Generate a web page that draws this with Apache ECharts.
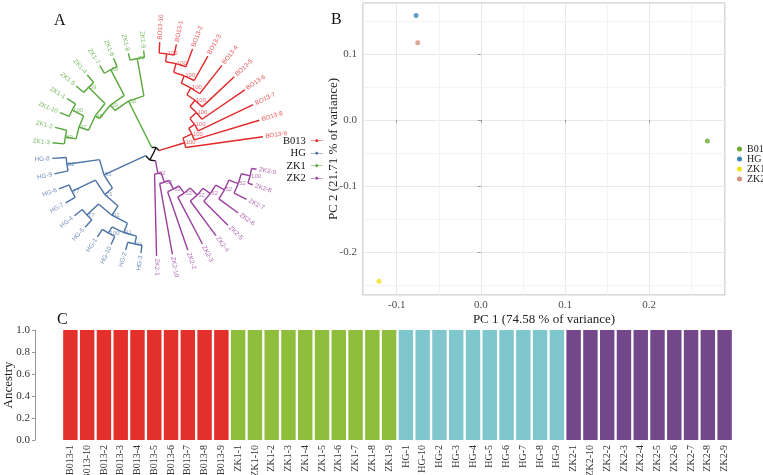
<!DOCTYPE html>
<html>
<head>
<meta charset="utf-8">
<script src="https://cdn.jsdelivr.net/npm/echarts@6/dist/echarts.min.js"></script>
<style>
  html, body { margin: 0; padding: 0; background: #fff; }
  #chart { width: 763px; height: 475px; }
</style>
</head>
<body>
<div id="chart"></div>
<script>
// ---- A: circular tree ----
const treeColors = { B013: '#e2282a', HG: '#4a72a6', ZK1: '#56a83a', ZK2: '#9a3f9c' };
const leafSlots = 41;   // 40 tips + one empty slot beside the legend
const leafStart = 8;    // degrees, counter-clockwise from east

// B013 and ZK2 are ladders: every node splits one tip off
const b013Tips = ['BO13-9', 'BO13-8', 'BO13-7', 'BO13-6', 'BO13-5', 'BO13-4', 'BO13-3', 'BO13-2', 'BO13-1', 'BO13-10'];
const b013NodeR = [32, 42, 49, 58, 66, 74, 82, 91, 99];
const b013Support = [100, 100, 100, 100, 100, 100, 100, 100, 100];
const b013TipR = 110;

const zk2Tips = ['ZK2-1', 'ZK2-10', 'ZK2-2', 'ZK2-3', 'ZK2-4', 'ZK2-5', 'ZK2-6', 'ZK2-7', 'ZK2-8', 'ZK2-9'];
const zk2NodeR = [22, 32, 42, 51, 61, 70, 80, 90, 99];
const zk2Support = [52, 52, 52, 52, 52, 52, 52, 52, 100];
const zk2TipR = 104;

// ZK1 and HG are ladders of tip pairs
const zk1Pairs = [['ZK1-9', 'ZK1-8'], ['ZK1-6', 'ZK1-7'], ['ZK1-4', 'ZK1-5'], ['ZK1-1', 'ZK1-10'], ['ZK1-2', 'ZK1-3']];
const zk1PairR = [95, 93, 92, 92, 90];
const zk1PairSupport = [77, 69, 59, 100, 59];
const zk1SpineR = [57, 64, 69, 79];
const zk1SpineSupport = [58, 59, 48, 47];
const zk1TipR = 102;

const hgPairs = [['HG-8', 'HG-9'], ['HG-6', 'HG-7'], ['HG-4', 'HG-5'], ['HG-1', 'HG-10'], ['HG-2', 'HG-3']];
const hgPairR = [88, 91, 92, 93, 94];
const hgPairSupport = [52, 77, 77, 100, 41];
const hgSpineR = [55, 65, 76, 86];
const hgSpineSupport = [91, 71, 91, 41];
const hgTipR = 102;

const rootR = [5, 9]; // the two black basal nodes

// ---- B: PCA ----
const pcaGroups = ['B013', 'HG', 'ZK1', 'ZK2'];
const pc1 = [0.269, -0.077, -0.121, -0.075];
const pc2 = [-0.032, 0.158, -0.244, 0.117];
const pcaColors = ['#6cad2f', '#3a86b0', '#f2e21c', '#d3917a'];
const minorX = [-0.05, 0.05, 0.15, 0.25];
const minorY = [-0.25, -0.15, -0.05, 0.05, 0.15];

// ---- C: ancestry ----
const samples = ['B013-1', 'B013-10', 'B013-2', 'B013-3', 'B013-4', 'B013-5', 'B013-6', 'B013-7', 'B013-8', 'B013-9',
  'ZK1-1', 'ZK1-10', 'ZK1-2', 'ZK1-3', 'ZK1-4', 'ZK1-5', 'ZK1-6', 'ZK1-7', 'ZK1-8', 'ZK1-9',
  'HG-1', 'HG-10', 'HG-2', 'HG-3', 'HG-4', 'HG-5', 'HG-6', 'HG-7', 'HG-8', 'HG-9',
  'ZK2-1', 'ZK2-10', 'ZK2-2', 'ZK2-3', 'ZK2-4', 'ZK2-5', 'ZK2-6', 'ZK2-7', 'ZK2-8', 'ZK2-9'];
const ancestryK1 = [1, 1, 1, 1, 1, 1, 1, 1, 1, 1, 0, 0, 0, 0, 0, 0, 0, 0, 0, 0, 0, 0, 0, 0, 0, 0, 0, 0, 0, 0, 0, 0, 0, 0, 0, 0, 0, 0, 0, 0];
const ancestryK2 = [0, 0, 0, 0, 0, 0, 0, 0, 0, 0, 1, 1, 1, 1, 1, 1, 1, 1, 1, 1, 0, 0, 0, 0, 0, 0, 0, 0, 0, 0, 0, 0, 0, 0, 0, 0, 0, 0, 0, 0];
const ancestryK3 = [0, 0, 0, 0, 0, 0, 0, 0, 0, 0, 0, 0, 0, 0, 0, 0, 0, 0, 0, 0, 1, 1, 1, 1, 1, 1, 1, 1, 1, 1, 0, 0, 0, 0, 0, 0, 0, 0, 0, 0];
const ancestryK4 = [0, 0, 0, 0, 0, 0, 0, 0, 0, 0, 0, 0, 0, 0, 0, 0, 0, 0, 0, 0, 0, 0, 0, 0, 0, 0, 0, 0, 0, 0, 1, 1, 1, 1, 1, 1, 1, 1, 1, 1];
const barColors = ['#e3302b', '#8fbd3c', '#80c6cd', '#734789'];

const serif = 'Liberation Serif';

// build the tree
function ladder(tips, nodeR, support, tipR, clade) {
  const n = nodeR.length;
  let node = { r: nodeR[n - 1], s: support[n - 1], clade,
    children: [{ name: tips[n - 1], r: tipR, clade }, { name: tips[n], r: tipR, clade }] };
  for (let i = n - 2; i >= 0; i--) {
    node = { r: nodeR[i], s: support[i], clade, children: [{ name: tips[i], r: tipR, clade }, node] };
  }
  return node;
}
function pairLadder(pairs, pairR, pairSupport, spineR, spineSupport, tipR, clade) {
  const pn = pairs.map((p, i) => ({ r: pairR[i], s: pairSupport[i], clade,
    children: p.map(name => ({ name, r: tipR, clade })) }));
  const k = spineR.length;
  let node = { r: spineR[k - 1], s: spineSupport[k - 1], clade, children: [pn[k - 1], pn[k]] };
  for (let i = k - 2; i >= 0; i--) {
    node = { r: spineR[i], s: spineSupport[i], clade, children: [pn[i], node] };
  }
  return node;
}

const tree = { r: 0, root: true, children: [
  { r: rootR[0], root: true, children: [
    ladder(b013Tips, b013NodeR, b013Support, b013TipR, 'B013'),
    pairLadder(zk1Pairs, zk1PairR, zk1PairSupport, zk1SpineR, zk1SpineSupport, zk1TipR, 'ZK1')] },
  { r: rootR[1], root: true, children: [
    pairLadder(hgPairs, hgPairR, hgPairSupport, hgSpineR, hgSpineSupport, hgTipR, 'HG'),
    ladder(zk2Tips, zk2NodeR, zk2Support, zk2TipR, 'ZK2')] }
] };

let slot = 0;
function placeAngles(node) {
  if (!node.children) {
    node.a = leafStart + slot * 360 / leafSlots;
    slot++;
  } else {
    node.children.forEach(placeAngles);
    node.a = node.children.reduce((s, c) => s + c.a, 0) / node.children.length;
  }
}
placeAngles(tree);

const edges = { black: [], B013: [], HG: [], ZK1: [], ZK2: [] };
function collect(node) {
  (node.children || []).forEach(c => {
    edges[c.clade || 'black'].push({ parent: node, child: c });
    collect(c);
  });
}
collect(tree);

function treeSeries(name, list, color) {
  return {
    type: 'custom',
    name,
    coordinateSystem: 'polar',
    polarIndex: 0,
    silent: true,
    data: list.map(e => [e.child.r, e.child.a]),
    renderItem(params, api) {
      const e = list[params.dataIndex];
      const p0 = api.coord([e.parent.r, e.parent.a]);
      const p1 = api.coord([e.parent.r, e.child.a]);
      const p2 = api.coord([e.child.r, e.child.a]);
      const connColor = e.parent.root ? '#111' : color;
      const kids = [
        { type: 'polyline', shape: { points: [p0, p1] }, style: { stroke: connColor, lineWidth: 1.4, fill: null } },
        { type: 'polyline', shape: { points: [p1, p2] }, style: { stroke: color, lineWidth: 1.4, fill: null } }
      ];
      const c = e.child;
      if (!c.children) {
        const pos = api.coord([c.r + 2.5, c.a]);
        const right = Math.cos(c.a * Math.PI / 180) >= 0;
        kids.push({
          type: 'text', x: pos[0], y: pos[1],
          rotation: (right ? c.a : c.a - 180) * Math.PI / 180,
          style: { text: c.name, fill: color, opacity: 0.8, font: '6.3px "Liberation Sans"',
            align: right ? 'left' : 'right', verticalAlign: 'middle' }
        });
      } else if (c.s != null) {
        const pos = api.coord([c.r, c.a]);
        kids.push({
          type: 'text', x: pos[0] + 1, y: pos[1],
          style: { text: String(c.s), fill: color, opacity: 0.7, font: '6px "Liberation Sans"',
            align: 'left', verticalAlign: 'middle' }
        });
      }
      return { type: 'group', children: kids };
    }
  };
}

const treeIcon = 'path://M0,4.4H20V5.6H0Z M10,2.6A2.4,2.4,0,1,1,9.99,2.6Z';

const chart = echarts.init(document.getElementById('chart'), null, { renderer: 'canvas' });

const option = {
  backgroundColor: '#fff',
  animation: false,
  title: [
    { text: 'A', left: 49, top: 8, textStyle: { fontFamily: serif, fontSize: 16, fontWeight: 'normal', color: '#111' } },
    { text: 'B', left: 326, top: 7, textStyle: { fontFamily: serif, fontSize: 16, fontWeight: 'normal', color: '#111' } },
    { text: 'C', left: 52, top: 307, textStyle: { fontFamily: serif, fontSize: 16, fontWeight: 'normal', color: '#111' } }
  ],
  legend: [
    {
      orient: 'vertical', left: 278, top: 130, itemGap: 1, itemWidth: 12, itemHeight: 6, align: 'right',
      selectedMode: false,
      textStyle: { fontFamily: serif, fontSize: 10.5, color: '#111', lineHeight: 11.5 },
      data: ['B013', 'HG', 'ZK1', 'ZK2'].map(n => ({ name: n, icon: treeIcon, itemStyle: { color: treeColors[n] } }))
    },
    {
      orient: 'vertical', left: 732, top: 139, itemGap: 0, itemWidth: 5, itemHeight: 5,
      selectedMode: false,
      textStyle: { fontFamily: serif, fontSize: 10, color: '#222', lineHeight: 9 },
      data: pcaGroups.map((n, i) => ({ name: n, icon: 'circle', itemStyle: { color: pcaColors[i] } }))
    }
  ],
  polar: { center: [154, 152], radius: 130 },
  angleAxis: { type: 'value', min: 0, max: 360, startAngle: 0, clockwise: false, show: false },
  radiusAxis: { type: 'value', min: 0, max: 130, show: false },
  grid: [
    { left: 363, top: 3, width: 362, height: 292, show: true, borderColor: '#b3b3b3', borderWidth: 1,
      backgroundColor: '#fff', containLabel: false, outerBoundsMode: 'none' },
    { left: 62, top: 330, right: 30, height: 110, containLabel: false, outerBoundsMode: 'none' }
  ],
  xAxis: [
    {
      gridIndex: 0, type: 'value', min: -0.14, max: 0.29, splitNumber: 4,
      name: 'PC 1 (74.58 % of variance)', nameLocation: 'middle', nameGap: 18, nameMoveOverlap: false,
      nameTextStyle: { fontFamily: serif, fontSize: 13, color: '#222' },
      axisLine: { show: false },
      axisTick: { show: true, length: 3, lineStyle: { color: '#999' } },
      axisLabel: { fontFamily: serif, fontSize: 11, color: '#4d4d4d', margin: 5,
        showMinLabel: false, showMaxLabel: false, formatter: v => v.toFixed(1) },
      splitLine: { show: true, lineStyle: { color: '#e8e8e8', width: 1 } }
    },
    {
      gridIndex: 1, type: 'category', data: samples,
      axisLine: { show: false }, axisTick: { show: false },
      axisLabel: { interval: 0, rotate: 90, margin: 5, fontFamily: serif, fontSize: 10, color: '#333' }
    }
  ],
  yAxis: [
    {
      gridIndex: 0, type: 'value', min: -0.265, max: 0.177, splitNumber: 4,
      name: 'PC 2 (21.71 % of variance)', nameLocation: 'middle', nameGap: 23, nameMoveOverlap: false,
      nameTextStyle: { fontFamily: serif, fontSize: 13, color: '#222' },
      axisLine: { show: false },
      axisTick: { show: true, length: 3, lineStyle: { color: '#999' } },
      axisLabel: { fontFamily: serif, fontSize: 11, color: '#4d4d4d', margin: 6,
        showMinLabel: false, showMaxLabel: false, formatter: v => v.toFixed(1) },
      splitLine: { show: true, lineStyle: { color: '#e8e8e8', width: 1 } }
    },
    {
      gridIndex: 1, type: 'value', min: 0, max: 1, interval: 0.2, offset: 27,
      name: 'Ancestry', nameLocation: 'middle', nameGap: 20, nameMoveOverlap: false,
      nameTextStyle: { fontFamily: serif, fontSize: 13, color: '#222' },
      axisLine: { show: true, lineStyle: { color: '#999' } },
      axisTick: { show: true, length: 3, lineStyle: { color: '#999' } },
      axisLabel: { fontFamily: serif, fontSize: 11, color: '#333', margin: 5, formatter: v => v.toFixed(1) },
      splitLine: { show: false }
    }
  ],
  series: [
    treeSeries('root', edges.black, '#111'),
    treeSeries('B013', edges.B013, treeColors.B013),
    treeSeries('ZK1', edges.ZK1, treeColors.ZK1),
    treeSeries('HG', edges.HG, treeColors.HG),
    treeSeries('ZK2', edges.ZK2, treeColors.ZK2),
    {
      type: 'line', name: 'minor', xAxisIndex: 0, yAxisIndex: 0, data: [], silent: true,
      markLine: {
        silent: true, symbol: 'none', label: { show: false }, animation: false,
        lineStyle: { color: '#f3f3f3', width: 1, type: 'solid' },
        data: minorX.map(v => ({ xAxis: v })).concat(minorY.map(v => ({ yAxis: v })))
      }
    },
    ...pcaGroups.map((g, i) => ({
      type: 'scatter', name: g, xAxisIndex: 0, yAxisIndex: 0, symbolSize: 5, z: 5,
      itemStyle: { color: pcaColors[i] },
      data: [[pc1[i], pc2[i]]]
    })),
    ...[ancestryK1, ancestryK2, ancestryK3, ancestryK4].map((q, i) => ({
      type: 'bar', name: 'K' + (i + 1), xAxisIndex: 1, yAxisIndex: 1, stack: 'q',
      barCategoryGap: '14%', itemStyle: { color: barColors[i] }, data: q
    }))
  ]
};

chart.setOption(option);
</script>
</body>
</html>
